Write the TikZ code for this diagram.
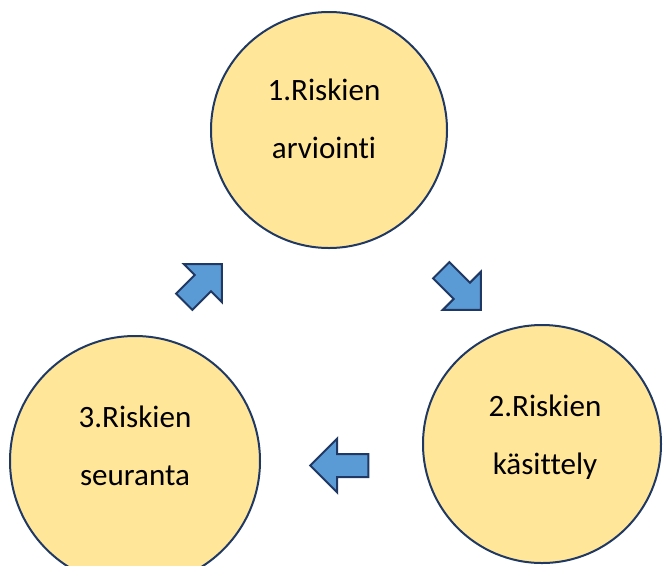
\documentclass[tikz,border=0pt]{standalone}
\usepackage{fontspec}
\setmainfont{Carlito}[Ligatures={NoCommon}]
\usetikzlibrary{shapes.arrows}
\definecolor{circfill}{HTML}{FFE699}
\definecolor{navy}{HTML}{203864}
\definecolor{arrfill}{HTML}{5B9BD5}
\tikzset{
  stage/.style={circle, draw=navy, line width=1.5pt, fill=circfill, inner sep=0pt},
  stagetext/.style={anchor=base, align=center, text=black, inner sep=0pt,
    font=\fontsize{23.3}{43}\selectfont},
  flowarrow/.style={single arrow, draw=navy, line width=1.5pt, fill=arrfill,
    inner sep=0pt, text height=15.75pt, text depth=0pt,
    minimum width=39pt, single arrow head extend=11.6pt,
    shape border uses incircle=false}
}
\begin{document}
\begin{tikzpicture}[x=0.75pt, y=-0.75pt]
\useasboundingbox (0,0) rectangle (664,565);
% circles
\node[stage, minimum size=177pt] (c1) at (329,130) {};
\node[stage, minimum size=178.5pt] (c2) at (542,444) {};
\node[stage, minimum size=187.5pt] (c3) at (135,461) {};
% texts (anchor = baseline of the last line)
\node[stagetext] (t1) at (324,158) {1.Riskien\\arviointi};
\node[stagetext] (t2) at (545,474) {2.Riskien\\käsittely};
\node[stagetext] (t3) at (135,485) {3.Riskien\\seuranta};
% arrows
\node[flowarrow, minimum height=42pt, rotate=-45] (a12) at (457,286) {};
\node[flowarrow, minimum height=43.5pt, rotate=180] (a23) at (345,465.5) {};
\node[flowarrow, minimum height=40pt, rotate=45] (a31) at (199,287) {};
\end{tikzpicture}
\end{document}
